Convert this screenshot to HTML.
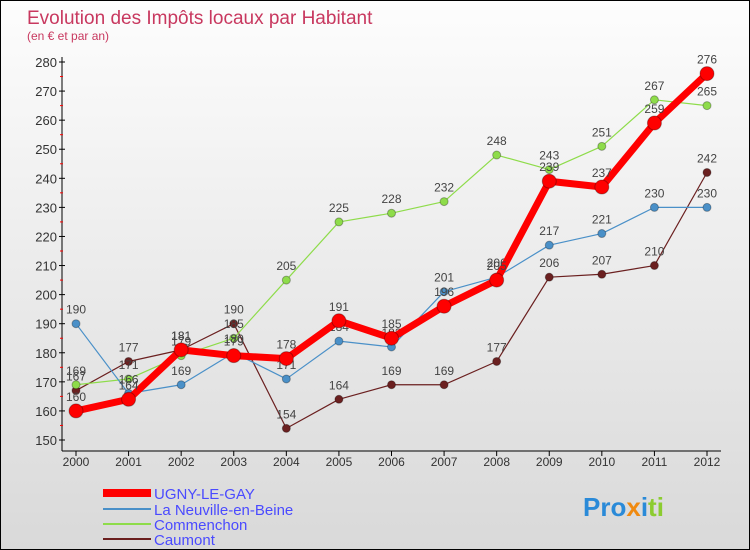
<!DOCTYPE html>
<html><head><meta charset="utf-8"><style>
body{margin:0}
#c{width:750px;height:550px;position:relative;box-sizing:border-box;border:1px solid #000;background:linear-gradient(#fdfdfd,#d9d9d9);font-family:"Liberation Sans",sans-serif;overflow:hidden}
</style></head><body>
<div id="c">
<svg width="750" height="550" id="s" style="position:absolute;left:0;top:0">
<text x="26" y="23" font-size="19" fill="#c8385f">Evolution des Impôts locaux par Habitant</text>
<text x="26" y="39" font-size="12" fill="#c8385f">(en € et par an)</text>
<g id="ax"></g><g id="mk"></g>
<g>
<line x1="102" y1="492" x2="150" y2="492" stroke="#f00" stroke-width="8"/>
<text x="153" y="498" font-size="15" fill="#4a4aff">UGNY-LE-GAY</text>
<line x1="102" y1="508" x2="150" y2="508" stroke="#4a90c8" stroke-width="2"/>
<text x="153" y="514" font-size="15" fill="#4a4aff">La Neuville-en-Beine</text>
<line x1="102" y1="523" x2="150" y2="523" stroke="#8edc4a" stroke-width="2"/>
<text x="153" y="529" font-size="15" fill="#4a4aff">Commenchon</text>
<line x1="102" y1="538" x2="150" y2="538" stroke="#6b2020" stroke-width="2"/>
<text x="153" y="544" font-size="15" fill="#4a4aff">Caumont</text>
</g>
<text x="582" y="515" font-size="26" font-weight="bold"><tspan fill="#2a8ad8">Pro</tspan><tspan fill="#f08a10">x</tspan><tspan fill="#2a8ad8">i</tspan><tspan fill="#8ccc30">ti</tspan></text>
</svg>
</div>
<script>
const years=[2000,2001,2002,2003,2004,2005,2006,2007,2008,2009,2010,2011,2012];
const yTicks=[150,160,170,180,190,200,210,220,230,240,250,260,270,280];
const ugny=[160,164,181,179,178,191,185,196,205,239,237,259,276];
const neuville=[190,166,169,180,171,184,182,201,206,217,221,230,230];
const commenchon=[169,171,179,185,205,225,228,232,248,243,251,267,265];
const caumont=[167,177,181,190,154,164,169,169,177,206,207,210,242];
const NS='http://www.w3.org/2000/svg';
const X=i=>75+i*(706-75)/(years.length-1);
const Y=v=>439-(v-150)*(439-61)/130;
function el(t,a,p){const e=document.createElementNS(NS,t);for(const k in a)e.setAttribute(k,a[k]);p.appendChild(e);return e;}
const ax=document.getElementById('ax'),mk=document.getElementById('mk');
const ya=el('line',{x1:61,y1:56,x2:61,y2:450,stroke:'#000'},ax);


const xa=el('line',{x1:61,y1:450,x2:720,y2:450,stroke:'#000'},ax);


yTicks.forEach(v=>{
 el('line',{x1:58,y1:Y(v),x2:64,y2:Y(v),stroke:'#000'},ax);
 if(v<280)el('line',{x1:59,y1:Y(v+5),x2:62,y2:Y(v+5),stroke:'#f00'},ax);
 const t=el('text',{x:56,y:Y(v)+5,'font-size':13,fill:'#333','text-anchor':'end'},ax);t.textContent=v;
 
 
});
years.forEach((y,i)=>{
 el('line',{x1:X(i),y1:450,x2:X(i),y2:455,stroke:'#000'},ax);
 const t=el('text',{x:X(i),y:465,'font-size':12,fill:'#333','text-anchor':'middle'},ax);t.textContent=y;
 
 
});
function series(d,col,w,r,name){
 const g=el('g',{},mk);
 
 
 el('polyline',{points:d.map((v,i)=>X(i)+','+Y(v)).join(' '),fill:'none',stroke:col,'stroke-width':w,'stroke-linejoin':'round'},g);
 d.forEach((v,i)=>{
  const c=el('circle',{cx:X(i),cy:Y(v),r:r,fill:col,stroke:'rgba(0,0,0,0.3)'},g);
  
  
  const t=el('text',{x:X(i),y:Y(v)-10,'font-size':12,fill:'#444','text-anchor':'middle'},g);t.textContent=v;
  
  
 });
}
series(caumont,'#6b2020',1.2,4,'caumont');
series(commenchon,'#8edc4a',1.2,4,'commenchon');
series(neuville,'#4a90c8',1.2,4,'neuville');
series(ugny,'#f00',7,7,'ugny');
</script>
</body></html>
